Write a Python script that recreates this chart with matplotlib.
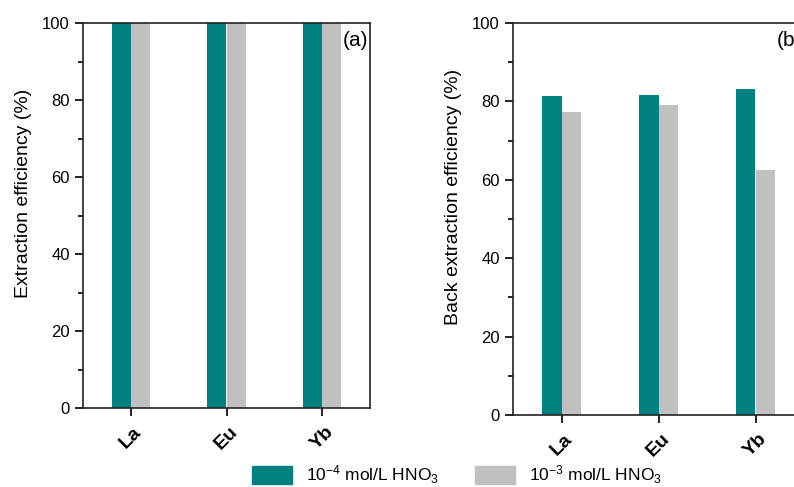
import matplotlib
matplotlib.use("Agg")
import matplotlib.pyplot as plt
import numpy as np
from matplotlib.patches import Patch

plt.rcParams["font.family"] = ["Liberation Sans", "DejaVu Sans"]
plt.rcParams["mathtext.fontset"] = "custom"
plt.rcParams["mathtext.rm"] = "Liberation Sans"
plt.rcParams["mathtext.it"] = "Liberation Sans:italic"
plt.rcParams["mathtext.bf"] = "Liberation Sans:bold"

# Data
elements = ["La", "Eu", "Yb"]
extraction_low = [100, 100, 100]    # 10^-4 mol/L HNO3
extraction_high = [100, 100, 100]   # 10^-3 mol/L HNO3
back_low = [81.3, 81.7, 83.1]
back_high = [77.4, 79.0, 62.6]

teal = "#008080"
grey = "#C0C0C0"
labels = [r"10$^{-4}$ mol/L HNO$_3$", r"10$^{-3}$ mol/L HNO$_3$"]

W, H = 794, 487
fig = plt.figure(figsize=(W / 100, H / 100), dpi=100)


def px_axes(x0, y0, x1, y1):
    return fig.add_axes([x0 / W, 1 - y1 / H, (x1 - x0) / W, (y1 - y0) / H])


ax1 = px_axes(83, 23, 370, 408)
ax2 = px_axes(513, 23, 804, 415)

x = np.arange(1, len(elements) + 1)
bw = 0.2


def style(ax, ylabel, tag, label_y):
    ax.set_xlim(0.5, 3.5)
    ax.set_ylim(0, 100)
    ax.set_yticks(range(0, 101, 20))
    ax.set_yticks(range(10, 100, 20), minor=True)
    ax.set_xticks(x)
    ax.tick_params(axis="both", direction="out", length=6, width=1.2)
    ax.tick_params(axis="y", labelsize=12)
    ax.tick_params(axis="x", pad=5)
    ax.tick_params(axis="y", which="minor", direction="out", length=3.5, width=1.2)
    ax.set_xticklabels(elements, rotation=45, fontweight="bold", fontsize=14,
                       ha="center", va="top")
    ax.set_ylabel(ylabel, fontsize=14, labelpad=7)
    ax.yaxis.label.set_y(label_y)
    for s in ax.spines.values():
        s.set_linewidth(1.2)
        s.set_color("#222222")
    ax.text(0.995, 0.955, tag, transform=ax.transAxes, fontsize=15,
            ha="right", va="center")


ax1.bar(x - bw / 2, extraction_low, bw, color=teal)
ax1.bar(x + bw / 2, extraction_high, bw, color=grey)
style(ax1, "Extraction efficiency (%)", "(a)", 0.558)

ax2.bar(x - bw / 2, back_low, bw, color=teal)
ax2.bar(x + bw / 2, back_high, bw, color=grey)
style(ax2, "Back extraction efficiency (%)", "(b)", 0.556)

handles = [Patch(color=teal), Patch(color=grey)]
fig.legend(handles, labels, loc="center", bbox_to_anchor=(457 / W, 1 - 475 / H),
           ncol=2, frameon=False, fontsize=12.5, handlelength=2.3, handleheight=1.2,
           handletextpad=0.8, columnspacing=2.1)

fig.savefig("out.png", dpi=100)
